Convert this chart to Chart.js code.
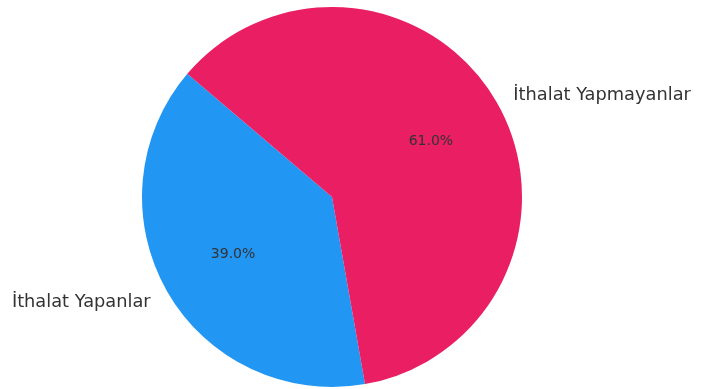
<!DOCTYPE html>
<html>
<head>
<meta charset="utf-8">
<script src="https://cdn.jsdelivr.net/npm/chart.js@4"></script>
<style>
  html, body { margin: 0; padding: 0; background: #fff; }
  #wrap { width: 707px; height: 389px; position: relative; }
</style>
</head>
<body>
<div id="wrap"><canvas id="chart"></canvas></div>
<script>
// Pie data
const labels = ['İthalat Yapanlar', 'İthalat Yapmayanlar'];
const values = [39.0, 61.0];
const colors = ['#2196F3', '#E91E63'];

// outside labels + percentages, placed like matplotlib (1.1r / 0.6r)
const sliceText = {
  id: 'sliceText',
  afterDatasetsDraw(chart) {
    const ctx = chart.ctx;
    const arcs = chart.getDatasetMeta(0).data;
    ctx.save();
    ctx.fillStyle = '#333333';
    ctx.textBaseline = 'middle';
    arcs.forEach((arc, i) => {
      const mid = (arc.startAngle + arc.endAngle) / 2;
      const r = arc.outerRadius;
      const cx = Math.cos(mid), cy = Math.sin(mid);

      ctx.font = '17.8px "DejaVu Sans"';
      ctx.textAlign = cx >= 0 ? 'left' : 'right';
      ctx.fillText(labels[i], arc.x + cx * r * 1.1, arc.y + cy * r * 1.1 + 2);

      ctx.font = '14px "DejaVu Sans"';
      ctx.textAlign = 'center';
      ctx.fillText(values[i].toFixed(1) + '%', arc.x + cx * r * 0.6, arc.y + cy * r * 0.6 + 1);
    });
    ctx.restore();
  }
};

new Chart(document.getElementById('chart'), {
  type: 'pie',
  data: {
    labels,
    datasets: [{ data: values, backgroundColor: colors, borderWidth: 0 }]
  },
  options: {
    responsive: true,
    maintainAspectRatio: false,
    animation: false,
    rotation: 170,
    layout: { padding: { top: 7, bottom: 2, left: 0, right: 43 } },
    plugins: { legend: { display: false }, tooltip: { enabled: false } }
  },
  plugins: [sliceText]
});
</script>
</body>
</html>
